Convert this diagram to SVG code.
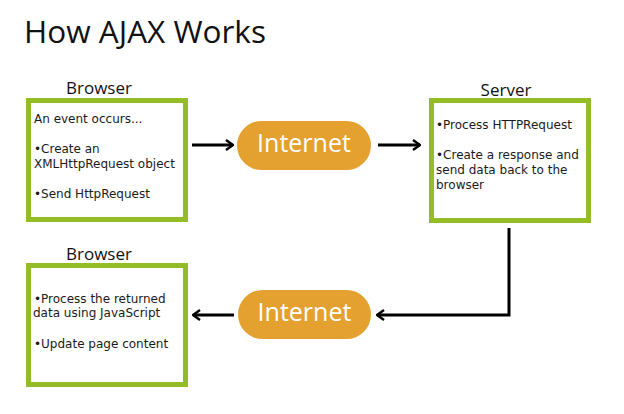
<svg xmlns="http://www.w3.org/2000/svg" width="624" height="414" viewBox="0 0 624 414">
<defs>
<style>
.box{fill:#fff;stroke:#93BC26;stroke-width:5}
.pill{fill:#E5A12F}
.lbl{font-family:"Open Sans","Noto Sans",sans-serif;font-size:17px;fill:#111}
.body{font-family:"DejaVu Sans",Verdana,sans-serif;font-size:12px;fill:#1a1a1a}
.net{font-family:"Open Sans","Noto Sans",sans-serif;font-size:25px;fill:#fff}
.conn{fill:none;stroke:#000;stroke-width:3}
</style>
<marker id="arr" viewBox="0 0 10 12" refX="9" refY="6" markerWidth="10" markerHeight="12" markerUnits="userSpaceOnUse" orient="auto">
<path d="M2,1 L9,6 L2,11" fill="none" stroke="#000" stroke-width="2.4"/>
</marker>
</defs>
<rect width="624" height="414" fill="#fff"/>
<text x="24" y="43" font-family="'Open Sans','Noto Sans',sans-serif" font-size="31.5" fill="#111">How AJAX Works</text>

<g id="browser1">
<text class="lbl" x="99" y="94" text-anchor="middle">Browser</text>
<rect class="box" x="28.5" y="100.5" width="157" height="119"/>
<text class="body" x="34" y="123">An event occurs...</text>
<text class="body" x="34" y="153">•Create an</text>
<text class="body" x="34" y="168">XMLHttpRequest object</text>
<text class="body" x="34" y="198">•Send HttpRequest</text>
</g>

<g id="internet1">
<rect class="pill" x="237" y="121" width="134" height="49" rx="24.5"/>
<text class="net" x="304" y="152" text-anchor="middle">Internet</text>
</g>

<g id="server">
<text class="lbl" x="506" y="96" text-anchor="middle">Server</text>
<rect class="box" x="431.5" y="100.5" width="157" height="120"/>
<text class="body" x="436" y="129">•Process HTTPRequest</text>
<text class="body" x="436" y="159">•Create a response and</text>
<text class="body" x="436" y="174">send data back to the</text>
<text class="body" x="436" y="189">browser</text>
</g>

<g id="internet2">
<rect class="pill" x="238" y="290" width="133" height="49" rx="24.5"/>
<text class="net" x="304.5" y="321" text-anchor="middle">Internet</text>
</g>

<g id="browser2">
<text class="lbl" x="99" y="260" text-anchor="middle">Browser</text>
<rect class="box" x="28.5" y="265.5" width="157" height="119"/>
<text class="body" x="34" y="303">•Process the returned</text>
<text class="body" x="33" y="317">data using JavaScript</text>
<text class="body" x="34" y="348">•Update page content</text>
</g>

<g id="connectors">
<path class="conn" d="M192,145 L233,145" marker-end="url(#arr)"/>
<path class="conn" d="M378,145 L420,145" marker-end="url(#arr)"/>
<path class="conn" d="M509,228 L509,315 L377,315" marker-end="url(#arr)"/>
<path class="conn" d="M234,315 L193,315" marker-end="url(#arr)"/>
</g>
</svg>
